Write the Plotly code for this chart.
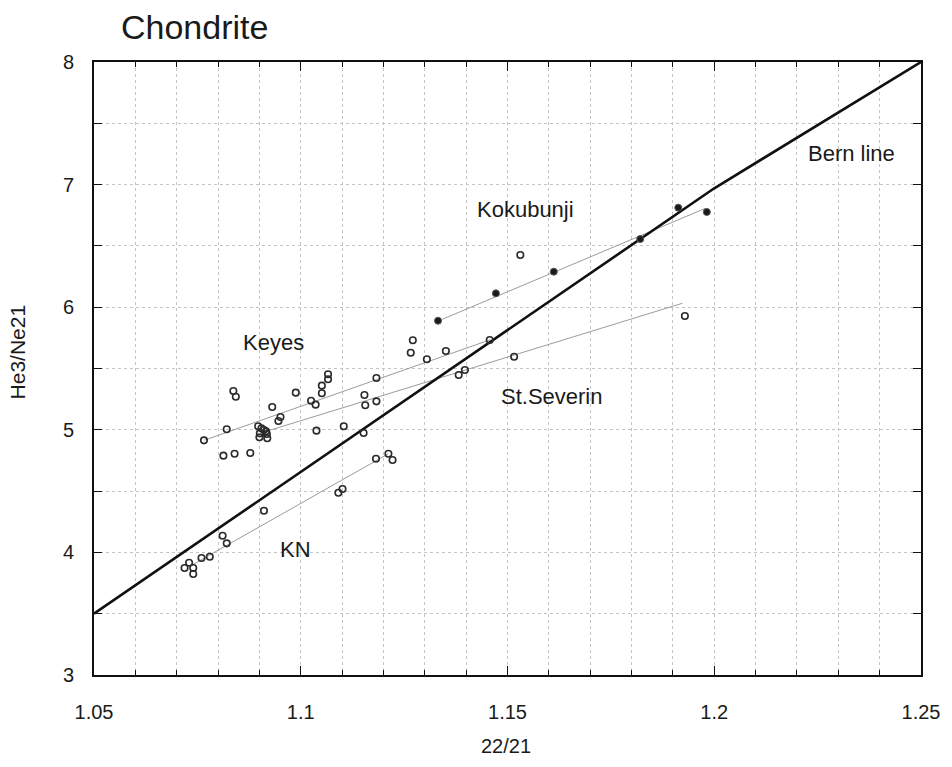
import plotly.graph_objects as go

# ---- data ----
keyes_x = [1.0766, 1.0821, 1.0837, 1.0843, 1.0931, 1.0897, 1.0946, 1.0951, 1.0988, 1.1025,
           1.1036, 1.1051, 1.1051, 1.1066, 1.1066, 1.1154, 1.1183, 1.1266, 1.1271, 1.1305,
           1.1351, 1.1457, 1.1531]
keyes_y = [4.914, 5.004, 5.316, 5.270, 5.186, 5.029, 5.072, 5.104, 5.303, 5.237,
           5.205, 5.298, 5.360, 5.412, 5.453, 5.284, 5.423, 5.629, 5.730, 5.575,
           5.643, 5.733, 6.426]
severin_x = [1.0813, 1.0840, 1.0878, 1.0905, 1.0911, 1.0901, 1.0900, 1.0918, 1.0919, 1.0916,
             1.1038, 1.1104, 1.1152, 1.1156, 1.1183, 1.1382, 1.1397, 1.1516, 1.1929]
severin_y = [4.789, 4.805, 4.811, 5.012, 4.998, 4.971, 4.939, 4.966, 4.931, 4.988,
             4.993, 5.029, 4.974, 5.200, 5.232, 5.447, 5.488, 5.596, 5.928]
kn_x = [1.0719, 1.0730, 1.0740, 1.0740, 1.0760, 1.0780, 1.0811, 1.0821, 1.0911, 1.1091,
        1.1101, 1.1182, 1.1212, 1.1222]
kn_y = [3.873, 3.916, 3.873, 3.824, 3.954, 3.965, 4.136, 4.074, 4.340, 4.487,
        4.517, 4.764, 4.805, 4.754]
koku_x = [1.1332, 1.1472, 1.1612, 1.1821, 1.1913, 1.1982]
koku_y = [5.890, 6.113, 6.290, 6.556, 6.812, 6.777]

# fitted trend lines (endpoints)
keyes_fit_x = [1.0766, 1.1457]
keyes_fit_y = [4.914, 5.733]
severin_fit_x = [1.0919, 1.1923]
severin_fit_y = [4.990, 6.032]
kn_fit_x = [1.0737, 1.1212]
kn_fit_y = [3.897, 4.805]
koku_fit_x = [1.1342, 1.1979]
koku_fit_y = [5.901, 6.807]

# Bern line
bern_x = [1.05, 1.20, 1.25]
bern_y = [3.5, 6.97, 8.0]

# labels
label_text = ["Kokubunji", "Keyes", "St.Severin", "KN", "Bern line"]
label_x = [1.1543, 1.0933, 1.1608, 1.0988, 1.2332]
label_y = [6.793, 5.716, 5.268, 4.020, 7.250]

x_ticks = [1.05, 1.1, 1.15, 1.2, 1.25]
x_tick_text = ["1.05", "1.1", "1.15", "1.2", "1.25"]
y_ticks = [3, 4, 5, 6, 7, 8]

FONT = "Liberation Sans, Arial, sans-serif"
fig = go.Figure()

fit_style = dict(color="#909090", width=0.9)
for fx, fy in [(keyes_fit_x, keyes_fit_y), (severin_fit_x, severin_fit_y),
               (kn_fit_x, kn_fit_y), (koku_fit_x, koku_fit_y)]:
    fig.add_trace(go.Scatter(x=fx, y=fy, mode="lines", line=fit_style,
                             showlegend=False, hoverinfo="skip"))

fig.add_trace(go.Scatter(x=bern_x, y=bern_y, mode="lines",
                         line=dict(color="#111111", width=2.6), showlegend=False))

open_marker = dict(symbol="circle-open", size=6.5, color="#2a2a2a", line=dict(width=1.6))
for px, py in [(keyes_x, keyes_y), (severin_x, severin_y), (kn_x, kn_y)]:
    fig.add_trace(go.Scatter(x=px, y=py, mode="markers", marker=open_marker,
                             showlegend=False))
fig.add_trace(go.Scatter(x=koku_x, y=koku_y, mode="markers",
                         marker=dict(symbol="circle", size=7, color="#1a1a1a",
                                     line=dict(width=1, color="#555")),
                         showlegend=False))

for t, lx, ly in zip(label_text, label_x, label_y):
    fig.add_annotation(x=lx, y=ly, text=t, showarrow=False,
                       font=dict(family=FONT, size=22, color="#1a1a1a"),
                       xanchor="center", yanchor="middle")

# title and axis titles
fig.add_annotation(xref="paper", yref="paper", x=(119 - 94) / 832, y=1 + (62 - 27) / 613,
                   text="Chondrite", showarrow=False, xanchor="left", yanchor="middle",
                   font=dict(family=FONT, size=34, color="#1a1a1a"))
fig.add_annotation(xref="paper", yref="paper", x=(508 - 94) / 832, y=(675 - 746) / 613,
                   text="22/21", showarrow=False, xanchor="center", yanchor="middle",
                   font=dict(family=FONT, size=20, color="#1a1a1a"))
fig.add_annotation(xref="paper", yref="paper", x=(17 - 94) / 832, y=(675 - 352) / 613,
                   text="He3/Ne21", showarrow=False, xanchor="center", yanchor="middle",
                   textangle=-90, font=dict(family=FONT, size=21, color="#1a1a1a"))

grid = dict(showgrid=True, gridcolor="#c4c4c4", griddash="dot", gridwidth=1)
fig.update_xaxes(range=[1.05, 1.25], tickvals=x_ticks, ticktext=x_tick_text,
                 ticks="inside", ticklen=9, tickwidth=1, tickcolor="#111",
                 showline=True, linewidth=2, linecolor="#111", mirror="ticks",
                 zeroline=False, ticklabelstandoff=18,
                 tickfont=dict(family=FONT, size=20, color="#1a1a1a"),
                 minor=dict(dtick=0.01, tick0=1.05, ticks="inside", ticklen=5,
                            tickcolor="#111", **grid),
                 **grid)
fig.update_yaxes(range=[3, 8], tickvals=y_ticks,
                 ticks="inside", ticklen=8, tickwidth=1.2, tickcolor="#111",
                 showline=True, linewidth=2, linecolor="#111", mirror="ticks",
                 zeroline=False, ticklabelstandoff=14,
                 tickfont=dict(family=FONT, size=20, color="#1a1a1a"),
                 minor=dict(dtick=0.5, tick0=3, ticks="inside", ticklen=8,
                            tickcolor="#111", **grid),
                 **grid)

fig.update_layout(width=952, height=767, margin=dict(l=94, r=26, t=62, b=92),
                  plot_bgcolor="white", paper_bgcolor="white", showlegend=False)

fig.write_html("out.html")
